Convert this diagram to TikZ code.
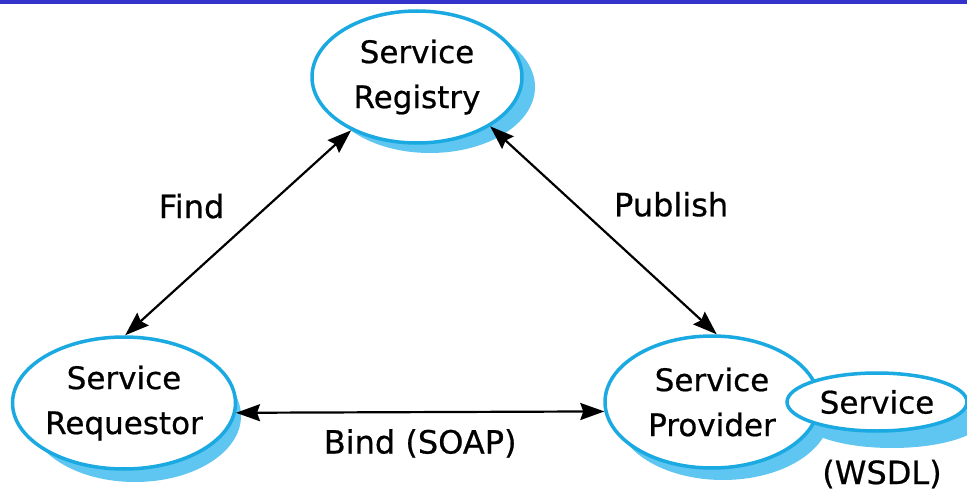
\documentclass[tikz,border=0pt]{standalone}
\usepackage{fontspec}
\setmainfont{DejaVu Sans}[FakeBold=0.6]
\usetikzlibrary{shapes.geometric,arrows.meta}
\definecolor{rim}{HTML}{1BA9E1}
\definecolor{shadowblue}{HTML}{5EC6F0}
\definecolor{bar}{HTML}{3434CC}
\tikzset{
  x=1pt,y=-1pt,
  svc/.style={ellipse,draw=rim,line width=3.5pt,fill=white,inner sep=0pt,
    align=center,font=\fontsize{31}{45}\selectfont},
  lbl/.style={font=\fontsize{32}{40}\selectfont,inner sep=0pt},
  tipa/.tip={Stealth[length=24pt,width=17pt,inset=3pt]},
  link/.style={line width=2.2pt,tipa-tipa}
}
\begin{document}
\begin{tikzpicture}
\useasboundingbox (0,0) rectangle (967,495);
\fill[white] (0,0) rectangle (967,495);
\fill[bar] (0,0) rectangle (967,4);
% shadows
\fill[shadowblue] (430,87) ellipse [x radius=105,y radius=66];
\fill[shadowblue] (135,416) ellipse [x radius=106,y radius=66];
\fill[shadowblue] (723,414) ellipse [x radius=107,y radius=66];
\fill[shadowblue] (892,418) ellipse [x radius=92,y radius=30];
% nodes
\node[svc,minimum width=210pt,minimum height=132pt] (reg) at (417,77) {Service\\Registry};
\node[svc,minimum width=212pt,minimum height=132pt] (req) at (124,403) {Service\\Requestor};
\node[svc,minimum width=214pt,minimum height=132pt] (prov) at (712,402) {Service\\Provider};
\node[svc,minimum width=180pt,minimum height=58pt] (wsdl) at (877,402) {Service};
\node[lbl] (wl) at (882,474) {(WSDL)};
% connectors
\draw[link] (reg.219) -- node[lbl,pos=0.37,xshift=-76pt] (find) {Find} (req.89);
\draw[link] (reg.326) -- node[lbl,pos=0.375,xshift=96pt] (pub) {Publish} (prov.86);
\draw[link] (req.-5) -- node[lbl,below=16pt] (bind) {Bind (SOAP)} (prov.185);
\end{tikzpicture}
\end{document}
